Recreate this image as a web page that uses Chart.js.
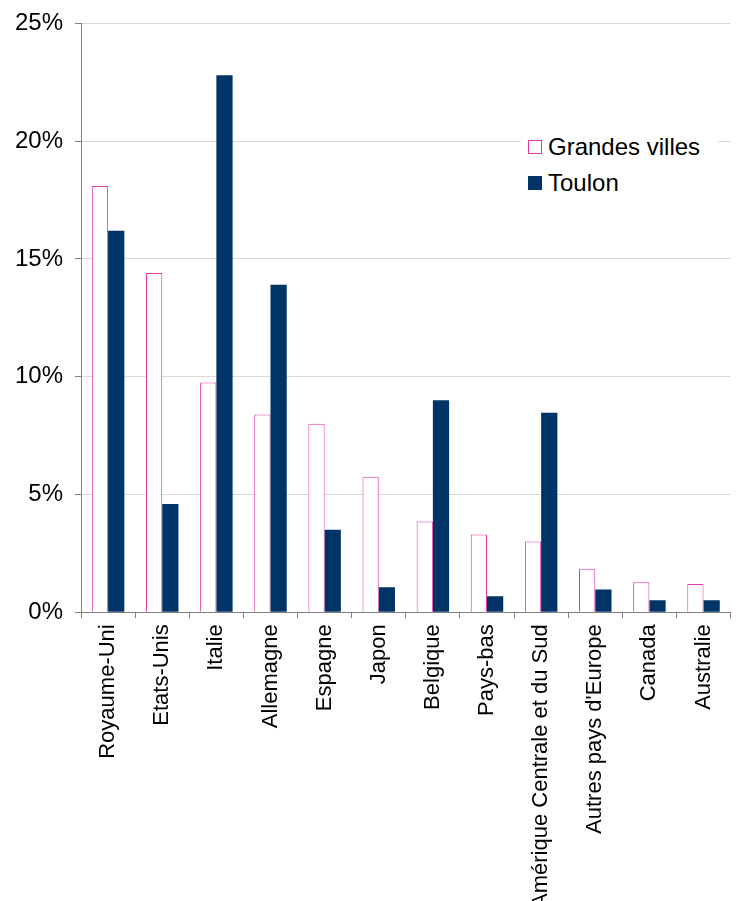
<!DOCTYPE html>
<html>
<head>
<meta charset="utf-8">
<script src="https://cdn.jsdelivr.net/npm/chart.js@4/dist/chart.umd.min.js"></script>
<style>
    html, body { margin: 0; padding: 0; background: #fff; overflow: hidden; }
    #wrap { position: relative; width: 736px; height: 901px; overflow: hidden; }
    #chart { display: block; margin-top: -3px; }
    #legend {
        position: absolute; left: 521px; top: 127px; width: 190px;
        background: #fff; font-family: 'Liberation Sans', Arial, sans-serif;
        font-size: 24px; color: #000; padding: 2px 0 2px 7px;
    }
    .item { display: flex; align-items: center; height: 36px; }
    .box { width: 14px; height: 14px; margin-right: 6px; box-sizing: border-box; }
</style>
</head>
<body>
<div id="wrap">
    <canvas id="chart" width="736" height="940"></canvas>
    <div id="legend"></div>
</div>
<script>
const countries = ['Royaume-Uni', 'Etats-Unis', 'Italie', 'Allemagne', 'Espagne', 'Japon',
    'Belgique', 'Pays-bas', 'Amérique Centrale et du Sud', "Autres pays d'Europe", 'Canada', 'Australie'];
const grandes_villes = [18.1, 14.4, 9.75, 8.4, 8.0, 5.75, 3.85, 3.3, 3.0, 1.85, 1.27, 1.2];
const toulon = [16.2, 4.6, 22.8, 13.9, 3.5, 1.06, 9.0, 0.68, 8.47, 0.97, 0.51, 0.51];

Chart.defaults.font.family = "'Liberation Sans', Arial, sans-serif";
Chart.defaults.font.size = 24;
Chart.defaults.color = '#000';

const ctx = document.getElementById('chart').getContext('2d');
const chart = new Chart(ctx, {
    type: 'bar',
    data: {
        labels: countries,
        datasets: [
            {
                label: 'Grandes villes',
                data: grandes_villes,
                backgroundColor: '#ffffff',
                borderColor: '#dd3aa6',
                borderWidth: 1,
                categoryPercentage: 0.6,
                barPercentage: 1.0
            },
            {
                label: 'Toulon',
                data: toulon,
                backgroundColor: '#003366',
                borderWidth: 0,
                categoryPercentage: 0.6,
                barPercentage: 1.0
            }
        ]
    },
    options: {
        responsive: false,
        animation: false,
        layout: { padding: { top: 4, left: 3, right: 2, bottom: 23 } },
        plugins: { legend: { display: false }, tooltip: { enabled: false } },
        scales: {
            x: {
                grid: { offset: true, drawOnChartArea: false, drawTicks: true, tickLength: 6, tickColor: '#808080' },
                border: { color: '#808080' },
                ticks: { maxRotation: 90, minRotation: 90, padding: 6, autoSkip: false, font: { size: 22 } }
            },
            y: {
                min: 0,
                max: 25,
                grid: { color: '#d9d9d9', tickLength: 6, tickColor: '#808080' },
                border: { color: '#808080' },
                ticks: { stepSize: 5, padding: 12, callback: v => v + '%' }
            }
        }
    }
});

// legend built from the datasets
const legend = document.getElementById('legend');
chart.data.datasets.forEach(ds => {
    const item = document.createElement('div');
    item.className = 'item';
    const box = document.createElement('span');
    box.className = 'box';
    box.style.background = ds.backgroundColor;
    box.style.border = ds.borderWidth ? '1px solid ' + ds.borderColor : 'none';
    item.appendChild(box);
    item.appendChild(document.createTextNode(ds.label));
    legend.appendChild(item);
});
</script>
</body>
</html>
